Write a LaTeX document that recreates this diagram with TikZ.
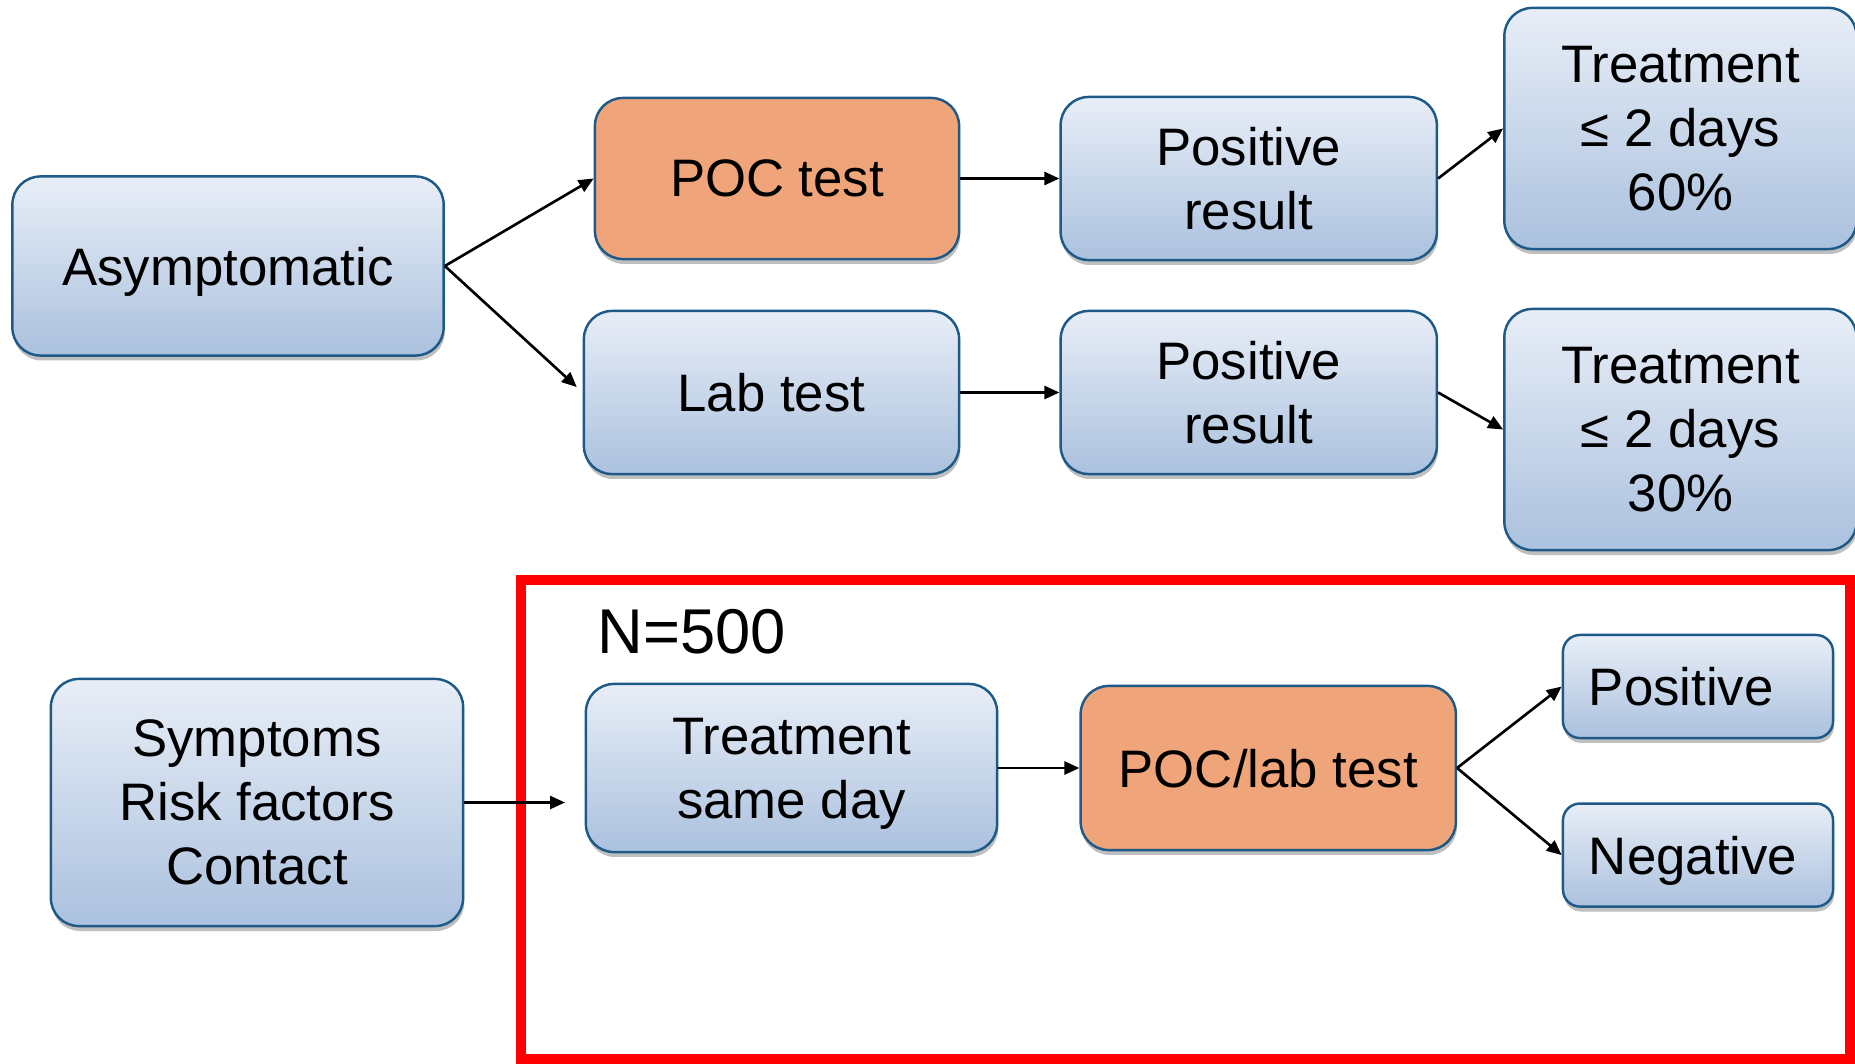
\documentclass[tikz,border=0pt]{standalone}
\usepackage{fontspec}
\setmainfont{Liberation Sans}
\usetikzlibrary{positioning, shadows, arrows.meta}
\definecolor{boxtop}    {HTML}{E8EEF7}
\definecolor{boxbot}    {HTML}{ABC1DE}
\definecolor{edgeblue}  {HTML}{1E5A87}
\definecolor{testorange}{HTML}{F0A47A}
\definecolor{framered}  {HTML}{FF0000}

\begin{document}
\begin{tikzpicture}[
    x=0.01cm, y=-0.01cm,
    every node/.style={font=\fontsize{15}{18.2}\selectfont, text=black},
    pane/.style={
        draw=edgeblue, line width=0.7pt, rounded corners=0.28cm,
        align=center, inner sep=0pt, text depth=0pt,
        drop shadow={shadow xshift=0.3pt, shadow yshift=-1.4pt,
                     opacity=0.25, fill=black}
    },
    box/.style={pane, top color=boxtop, bottom color=boxbot},
    testbox/.style={pane, fill=testorange},
    smallbox/.style={
        box, rounded corners=0.17cm,
        minimum width=2.7cm, minimum height=1.03cm,
        text width=2.18cm, align=left
    },
    arrow/.style={-{Triangle[length=0.15cm, width=0.13cm]}, line width=0.75pt},
    frame/.style={draw=framered, line width=0.1cm}
]

\useasboundingbox (0,0) rectangle (1855,1064);

% ── ASYMPTOMATIC BRANCH ────────────────────────────────────────
\node[box, minimum width=4.31cm, minimum height=1.79cm] (asym)
    at (228,266) {Asymptomatic};

\node[testbox, minimum width=3.64cm, minimum height=1.61cm] (poc)
    at (777,178.5) {POC test};

\node[box, minimum width=3.76cm, minimum height=1.63cm,
      right=0.99cm of poc] (pos_poc)
    {Positive \\ result};

\node[box, minimum width=3.52cm, minimum height=2.41cm,
      right=0.65cm of pos_poc, yshift=0.5cm] (treat_poc)
    {Treatment \\ ≤ 2 days \\ 60\%};

\node[box, minimum width=3.75cm, minimum height=1.63cm] (lab)
    at (771.5,392.5) {Lab test};

\node[box, minimum width=3.76cm, minimum height=1.63cm,
      right=0.99cm of lab] (pos_lab)
    {Positive \\ result};

\node[box, minimum width=3.52cm, minimum height=2.41cm,
      right=0.65cm of pos_lab, yshift=-0.37cm] (treat_lab)
    {Treatment \\ ≤ 2 days \\ 30\%};

\draw[arrow] (asym.east) -- (poc.west);
\draw[arrow, shorten >=0.08cm] (asym.east) -- (lab.west);
\draw[arrow] (poc.east) -- (pos_poc.west);
\draw[arrow] (lab.east) -- (pos_lab.west);
\draw[arrow] (pos_poc.east) -- (treat_poc.west);
\draw[arrow] (pos_lab.east) -- (treat_lab.west);

% ── SYMPTOMATIC BRANCH ─────────────────────────────────────────
\node[box, minimum width=4.12cm, minimum height=2.47cm] (symp)
    at (257,802.5) {Symptoms \\ Risk factors \\ Contact};

\draw[frame] (521,580) rectangle (1850,1059);

\node[anchor=base west, font=\fontsize{18}{21}\selectfont] (count)
    at (585,653) {N=500};

\node[box, minimum width=4.11cm, minimum height=1.68cm] (sameday)
    at (791.5,768) {Treatment \\ same day};

\node[testbox, minimum width=3.75cm, minimum height=1.64cm,
      right=0.81cm of sameday] (poclab)
    {POC/lab test};

\node[smallbox] (positive) at (1698,686.5) {Positive};
\node[smallbox, below=0.63cm of positive] (negative) {Negative};

\coordinate (entry) at (565,802.5);
\draw[arrow] (symp.east) -- (entry);
\draw[arrow] (sameday.east) -- (poclab.west);
\draw[arrow] (poclab.east) -- (positive.west);
\draw[arrow] (poclab.east) -- (negative.west);

\end{tikzpicture}
\end{document}
